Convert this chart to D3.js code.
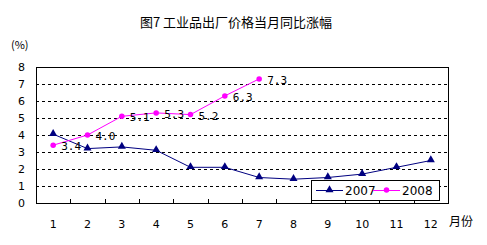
<!DOCTYPE html>
<html>
<head>
<meta charset="utf-8">
<script src="https://cdn.jsdelivr.net/npm/d3@7"></script>
<style>
body { margin: 0; background: #fff; }
svg text { font-family: "DejaVu Sans", "Noto Sans CJK SC", sans-serif; }
</style>
</head>
<body>
<div id="chart"></div>
<script>
// months on the x axis
var months = ["1", "2", "3", "4", "5", "6", "7", "8", "9", "10", "11", "12"];
var yTicks = [0, 1, 2, 3, 4, 5, 6, 7, 8];
var values2007 = [4.05, 3.2, 3.3, 3.1, 2.1, 2.1, 1.5, 1.4, 1.5, 1.7, 2.1, 2.5];
var values2008 = [3.4, 4.0, 5.1, 5.3, 5.2, 6.3, 7.3];
var labels2008 = ["3.4", "4.0", "5.1", "5.3", "5.2", "6.3", "7.3"];
var seriesNames = ["2007", "2008"];

var W = 487, H = 245;
var margin = {left: 36, right: 39, top: 67, bottom: 42};
var navy = "#000080", pink = "#ff00ff";

var svg = d3.select("#chart").append("svg").attr("width", W).attr("height", H);

var x = d3.scaleBand().domain(months).range([margin.left, W - margin.right]);
var y = d3.scaleLinear().domain([0, 8]).range([H - margin.bottom, margin.top]);

// title
svg.append("text").attr("x", 236).attr("y", 27).attr("text-anchor", "middle")
	.style("font-family", "'Noto Sans CJK SC'").style("font-size", "13px")
	.text("图7 工业品出厂价格当月同比涨幅");
svg.append("text").attr("x", 11).attr("y", 49)
	.style("font-family", "'Noto Sans CJK SC'").style("font-size", "11px").text("(%)");

// dashed grid
svg.append("g").selectAll("line").data(yTicks.filter(function(d) { return d > 0 && d < 8; }))
	.enter().append("line")
	.attr("x1", margin.left).attr("x2", W - margin.right)
	.attr("y1", function(d) { return Math.round(y(d)) + 0.5; })
	.attr("y2", function(d) { return Math.round(y(d)) + 0.5; })
	.style("stroke", "#000").style("stroke-dasharray", "3,3");

// plot frame
svg.append("rect").attr("x", margin.left + 0.5).attr("y", Math.round(y(8)) + 0.5)
	.attr("width", W - margin.right - margin.left).attr("height", Math.round(y(0)) - Math.round(y(8)))
	.style("fill", "none").style("stroke", "#000");

// y axis labels
var yAxis = d3.axisLeft(y).tickValues(yTicks).tickSize(0).tickPadding(11).tickFormat(d3.format("d"));
var gy = svg.append("g").attr("transform", "translate(" + margin.left + ",0)").call(yAxis);
gy.select(".domain").remove();
gy.selectAll("text").style("font-size", "11px").style("font-family", "'DejaVu Sans'");

// x axis ticks (inward) and labels
var xTickPos = months.slice(1).map(function(m) { return x(m); });
svg.append("g").selectAll("line").data(xTickPos).enter().append("line")
	.attr("x1", function(d) { return Math.round(d) + 0.5; })
	.attr("x2", function(d) { return Math.round(d) + 0.5; })
	.attr("y1", y(0)).attr("y2", y(0) - 4).style("stroke", "#000");
var xAxis = d3.axisBottom(x).tickSize(0).tickPadding(17);
var gx = svg.append("g").attr("transform", "translate(0," + y(0) + ")").call(xAxis);
gx.select(".domain").remove();
gx.selectAll("text").style("font-size", "11px").style("font-family", "'DejaVu Sans'");
svg.append("text").attr("x", 449).attr("y", 226)
	.style("font-family", "'Noto Sans CJK SC'").style("font-size", "12px").text("月份");

var cx = function(d, i) { return x(months[i]) + x.bandwidth() / 2; };
var line = d3.line().x(cx).y(function(d) { return y(d); });

var tri = d3.symbol().type(d3.symbolTriangle).size(28);
var dot = d3.symbol().type(d3.symbolCircle).size(24);

// 2007
svg.append("path").datum(values2007).attr("d", line)
	.style("fill", "none").style("stroke", navy).style("stroke-width", 1);
svg.append("g").selectAll("path").data(values2007).enter().append("path")
	.attr("d", tri)
	.attr("transform", function(d, i) { return "translate(" + cx(d, i) + "," + (y(d) - 0.5) + ")"; })
	.style("fill", navy);

// 2008
svg.append("path").datum(values2008).attr("d", line)
	.style("fill", "none").style("stroke", pink).style("stroke-width", 1);
svg.append("g").selectAll("path").data(values2008).enter().append("path")
	.attr("d", dot)
	.attr("transform", function(d, i) { return "translate(" + cx(d, i) + "," + y(d) + ")"; })
	.style("fill", pink);
svg.append("g").selectAll("text").data(values2008).enter().append("text")
	.attr("x", function(d, i) { return cx(d, i) + 8; })
	.attr("y", function(d) { return y(d) + 5; })
	.style("font-size", "11px").style("font-family", "'DejaVu Sans Mono'")
	.text(function(d, i) { return labels2008[i]; });

// legend
var lg = svg.append("g").attr("transform", "translate(311,180)");
lg.append("rect").attr("x", 0.5).attr("y", 0.5).attr("width", 128).attr("height", 20)
	.style("fill", "#fff").style("stroke", "#000");
var legendItems = [
	{name: seriesNames[0], color: navy, sym: tri, x0: 5},
	{name: seriesNames[1], color: pink, sym: dot, x0: 62}
];
legendItems.forEach(function(it) {
	lg.append("line").attr("x1", it.x0).attr("x2", it.x0 + 27).attr("y1", 10.5).attr("y2", 10.5)
		.style("stroke", it.color);
	lg.append("path").attr("d", it.sym).attr("transform", "translate(" + (it.x0 + 13.5) + ",10)")
		.style("fill", it.color);
	lg.append("text").attr("x", it.x0 + 29).attr("y", 15).style("font-size", "12px")
		.style("font-family", "'DejaVu Sans'").text(it.name);
});
</script>
</body>
</html>
